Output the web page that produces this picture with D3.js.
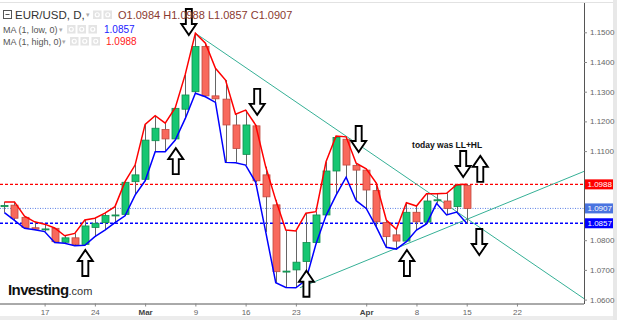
<!DOCTYPE html>
<html>
<head>
<meta charset="utf-8">
<script src="https://cdn.jsdelivr.net/npm/d3@7"></script>
<style>
  html, body { margin: 0; padding: 0; background: #fff; overflow: hidden; }
  svg { display: block; font-family: Arial, "Liberation Sans", sans-serif; }
</style>
</head>
<body>
<div id="chart"></div>
<script>
// daily EUR/USD candles
const dates = [
  '2020-02-11','2020-02-12','2020-02-13','2020-02-14','2020-02-17','2020-02-18','2020-02-19','2020-02-20','2020-02-21',
  '2020-02-24','2020-02-25','2020-02-26','2020-02-27','2020-02-28','2020-03-02','2020-03-03','2020-03-04','2020-03-05',
  '2020-03-06','2020-03-09','2020-03-10','2020-03-11','2020-03-12','2020-03-13','2020-03-16','2020-03-17','2020-03-18',
  '2020-03-19','2020-03-20','2020-03-23','2020-03-24','2020-03-25','2020-03-26','2020-03-27','2020-03-30','2020-03-31',
  '2020-04-01','2020-04-02','2020-04-03','2020-04-06','2020-04-07','2020-04-08','2020-04-09','2020-04-10','2020-04-13',
  '2020-04-14','2020-04-15'
];
const open = [
  1.0913,1.0918,1.0877,1.0842,1.0837,1.0840,1.0793,1.0808,1.0786,
  1.0843,1.0859,1.0884,1.0887,1.0997,1.1005,1.1135,1.1173,1.1141,
  1.1241,1.1300,1.1452,1.1286,1.1275,1.1188,1.1089,1.1185,1.1020,
  1.0919,1.0694,1.0700,1.0728,1.0792,1.0885,1.1033,1.1140,1.1052,
  1.1036,1.0967,1.0860,1.0818,1.0797,1.0894,1.0861,1.0934,1.0932,
  1.0913,1.0984
];
const high = [
  1.0929,1.0929,1.0881,1.0862,1.0854,1.0841,1.0815,1.0823,1.0868,
  1.0874,1.0891,1.0913,1.0997,1.1053,1.1190,1.1219,1.1194,1.1246,
  1.1359,1.1497,1.1463,1.1379,1.1339,1.1224,1.1238,1.1188,1.1047,
  1.0935,1.0834,1.0831,1.0891,1.0896,1.1064,1.1151,1.1148,1.1059,
  1.1040,1.0992,1.0868,1.0837,1.0926,1.0915,1.0956,1.0956,1.0958,
  1.0987,1.0988
];
const low = [
  1.0893,1.0867,1.0840,1.0835,1.0829,1.0792,1.0790,1.0781,1.0783,
  1.0812,1.0834,1.0859,1.0882,1.0952,1.1000,1.1098,1.1098,1.1137,
  1.1210,1.1295,1.1283,1.1264,1.1062,1.1061,1.1053,1.0995,1.0828,
  1.0657,1.0641,1.0640,1.0666,1.0787,1.0883,1.0952,1.1012,1.0933,
  1.0907,1.0845,1.0776,1.0770,1.0795,1.0834,1.0855,1.0924,1.0885,
  1.0895,1.0857
];
const close = [
  1.0917,1.0874,1.0843,1.0837,1.0838,1.0795,1.0808,1.0786,1.0848,
  1.0857,1.0883,1.0885,1.0995,1.1020,1.1137,1.1177,1.1141,1.1244,
  1.1289,1.1452,1.1286,1.1276,1.1188,1.1109,1.1188,1.1000,1.0946,
  1.0694,1.0696,1.0726,1.0792,1.0885,1.1033,1.1146,1.1053,1.1036,
  1.0969,1.0862,1.0812,1.0797,1.0894,1.0862,1.0932,1.0936,1.0907,
  1.0985,1.0907
];

// 1.1000 and 1.0900 sit under the price tags, so they are not labelled
const yTicks = [1.06, 1.07, 1.08, 1.11, 1.12, 1.13, 1.14, 1.15];
const tickDates = ['2020-02-17','2020-02-24','2020-03-02','2020-03-09','2020-03-16','2020-03-23','2020-04-01','2020-04-08','2020-04-15','2020-04-22'];
const tickLabels = ['17','24','Mar','9','16','23','Apr','8','15','22'];
const levels = [1.0988, 1.0907, 1.0857];       // high MA, last close, low MA

// trend lines: two anchors each [bar index, price], extended to the right edge
const trendDown = [[19, 1.1497], [46, 1.0873]];
const trendUp = [[29.4, 1.0640], [46, 1.0870]];

// hand-drawn arrows: [bar index, tip price, direction]
const arrowMarks = [
  [18.35, 1.1491, 'down'],
  [8.05, 1.0767, 'up'],
  [17.05, 1.1110, 'up'],
  [25.15, 1.1222, 'down'],
  [30.05, 1.0697, 'up'],
  [35.25, 1.1097, 'down'],
  [40.05, 1.0767, 'up'],
  [45.65, 1.1013, 'down'],
  [47.35, 1.1084, 'up'],
  [47.25, 1.0750, 'down']
];
const note = [44.05, 1.1110, 'today was LL+HL'];

const W = 625, H = 320;
const plotRight = 584, plotTop = 3, plotBottom = 303.5;

// weekday count from the first bar
function tradingIndex(s) {
  const d0 = new Date(dates[0] + 'T00:00:00Z');
  const d1 = new Date(s + 'T00:00:00Z');
  let n = 0;
  for (let d = new Date(d0); d < d1; d.setUTCDate(d.getUTCDate() + 1)) {
    const wd = d.getUTCDay();
    if (wd !== 0 && wd !== 6) n++;
  }
  return n;
}

const bars = dates.map((d, i) => ({
  i: tradingIndex(d), o: open[i], h: high[i], l: low[i], c: close[i]
}));

const svg = d3.select('#chart').append('svg').attr('width', W).attr('height', H);

const x = d3.scaleLinear().domain([-0.44, 57.67]).range([0, plotRight]);
const y = d3.scaleLinear().domain([1.06, 1.15]).range([299.6, 32.3]);

// frame bits
svg.append('rect').attr('x', 613).attr('y', 0).attr('width', 4).attr('height', H).attr('fill', '#e8e8e8');
svg.append('rect').attr('x', 0).attr('y', 316).attr('width', 613).attr('height', 4).attr('fill', '#ececec');
svg.append('line').attr('x1', 0).attr('x2', 613).attr('y1', 2.5).attr('y2', 2.5).attr('stroke', '#e2e2e2');

svg.append('clipPath').attr('id', 'plot').append('rect')
  .attr('x', 0).attr('y', plotTop).attr('width', plotRight).attr('height', plotBottom - plotTop);
const g = svg.append('g').attr('clip-path', 'url(#plot)');

// level lines
g.append('line').attr('x1', 0).attr('x2', plotRight).attr('y1', y(levels[0])).attr('y2', y(levels[0]))
  .attr('stroke', '#ff0000').attr('stroke-width', 1.3).attr('stroke-dasharray', '3,2');
g.append('line').attr('x1', 0).attr('x2', plotRight).attr('y1', y(levels[1])).attr('y2', y(levels[1]))
  .attr('stroke', '#5b7fe6').attr('stroke-width', 1).attr('stroke-dasharray', '1,1.5');
g.append('line').attr('x1', 0).attr('x2', plotRight).attr('y1', y(levels[2])).attr('y2', y(levels[2]))
  .attr('stroke', '#0000ff').attr('stroke-width', 1.5).attr('stroke-dasharray', '3,2');

// trend lines
function extend(t) {
  const slope = (t[1][1] - t[0][1]) / (t[1][0] - t[0][0]);
  const xe = x.domain()[1];
  return [t[0], [xe, t[0][1] + slope * (xe - t[0][0])]];
}
[trendDown, trendUp].forEach(t => {
  g.append('path').datum(extend(t))
    .attr('fill', 'none').attr('stroke', '#36b096').attr('stroke-width', 1)
    .attr('d', d3.line().x(d => x(d[0])).y(d => y(d[1])));
});

// candles
const bw = 7;
const candle = g.selectAll('.candle').data(bars).join('g').attr('class', 'candle');
candle.append('line')
  .attr('x1', d => Math.round(x(d.i)) + 0.5).attr('x2', d => Math.round(x(d.i)) + 0.5)
  .attr('y1', d => y(d.h)).attr('y2', d => y(d.l))
  .attr('stroke', '#666').attr('stroke-width', 1);
candle.append('rect')
  .attr('x', d => Math.round(x(d.i)) + 0.5 - bw / 2)
  .attr('y', d => y(Math.max(d.o, d.c)))
  .attr('width', bw)
  .attr('height', d => Math.max(1, Math.abs(y(d.o) - y(d.c))))
  .attr('fill', d => d.c >= d.o ? '#16c672' : '#f8695c')
  .attr('stroke', d => d.c >= d.o ? '#0f8c4c' : '#c1483d')
  .attr('stroke-width', 0.8);

// MA(1, high) and MA(1, low)
g.append('path').datum(bars).attr('fill', 'none').attr('stroke', '#ff0000').attr('stroke-width', 1.5)
  .attr('d', d3.line().x(d => x(d.i)).y(d => y(d.h)));
g.append('path').datum(bars).attr('fill', 'none').attr('stroke', '#0000ff').attr('stroke-width', 1.5)
  .attr('d', d3.line().x(d => x(d.i)).y(d => y(d.l)));

// arrows
function arrowPath(dir) {
  const s = dir === 'up' ? 1 : -1;
  const pts = [[0, 0], [7.5, 11], [3, 11], [3, 26], [-3, 26], [-3, 11], [-7.5, 11]];
  return 'M' + pts.map(p => p[0] + ',' + (p[1] * s)).join('L') + 'Z';
}
g.selectAll('.arrow').data(arrowMarks).join('path').attr('class', 'arrow')
  .attr('transform', d => `translate(${x(d[0])},${y(d[1])})`)
  .attr('d', d => arrowPath(d[2]))
  .attr('fill', '#fff').attr('stroke', '#000').attr('stroke-width', 1.9).attr('stroke-linejoin', 'miter');

g.append('text').attr('x', x(note[0])).attr('y', y(note[1]))
  .attr('text-anchor', 'middle').attr('font-size', 8.5).attr('font-weight', 'bold').attr('fill', '#111')
  .text(note[2]);

// axes
const xAxis = svg.append('g').attr('transform', `translate(0,${plotBottom})`)
  .call(d3.axisBottom(x).tickValues(tickDates.map(tradingIndex))
    .tickFormat((d, k) => tickLabels[k]).tickSize(3).tickPadding(3));
xAxis.select('.domain').attr('d', `M0,0.5H${plotRight}`).attr('stroke', '#555');
xAxis.selectAll('.tick line').attr('stroke', '#888');
xAxis.selectAll('.tick text').attr('font-size', 8)
  .attr('font-weight', (d, k) => isNaN(+tickLabels[k]) ? 'bold' : 'normal')
  .attr('fill', (d, k) => isNaN(+tickLabels[k]) ? '#444' : '#666');

const yAxis = svg.append('g').attr('transform', `translate(${plotRight},0)`)
  .call(d3.axisRight(y).tickValues(yTicks).tickFormat(d3.format('.4f')).tickSize(3).tickPadding(3));
yAxis.select('.domain').attr('d', `M0.5,${plotTop}V${plotBottom + 0.5}`).attr('stroke', '#555');
yAxis.selectAll('.tick line').attr('stroke', '#888');
yAxis.selectAll('.tick text').attr('font-size', 8).attr('fill', '#666');

// price tags
const tagColors = ['#ff0000', '#4a74e0', '#0000ff'];
levels.forEach((v, k) => {
  svg.append('rect').attr('x', plotRight + 1).attr('y', y(v) - 5).attr('width', 28).attr('height', 10)
    .attr('fill', tagColors[k]);
  svg.append('text').attr('x', plotRight + 3.5).attr('y', y(v) + 3).attr('font-size', 8).attr('fill', '#fff')
    .text(d3.format('.4f')(v));
});

// legend header
const head = svg.append('g');
head.append('rect').attr('x', 3.5).attr('y', 10.5).attr('width', 8).attr('height', 8).attr('fill', 'none').attr('stroke', '#555');
head.append('line').attr('x1', 5.5).attr('x2', 9.5).attr('y1', 14.5).attr('y2', 14.5).attr('stroke', '#555');
head.append('text').attr('x', 15).attr('y', 19).attr('font-size', 11.5).attr('fill', '#333').text('EUR/USD, D,');
head.append('text').attr('x', 86).attr('y', 17).attr('font-size', 7).attr('fill', '#aaa').text('▾');

function icons(xs, yTop) {
  xs.forEach(px => head.append('rect').attr('x', px).attr('y', yTop).attr('width', 8.5).attr('height', 8.5).attr('fill', '#e4e4e4'));
  xs.forEach(px => head.append('circle').attr('cx', px + 4.25).attr('cy', yTop + 4.25).attr('r', 2).attr('fill', 'none').attr('stroke', '#fff').attr('stroke-width', 1.2));
}
icons([93, 103.5], 10.5);

const ohlc = head.append('text').attr('x', 118).attr('y', 19).attr('font-size', 11);
[['O', open], ['H', high], ['L', low], ['C', close]].forEach(([k, arr], j) => {
  ohlc.append('tspan').attr('fill', '#8a3a30').text((j ? ' ' : '') + k + d3.format('.4f')(arr[arr.length - 1]));
});

head.append('text').attr('x', 3).attr('y', 33).attr('font-size', 9).attr('fill', '#555').text('MA (1, low, 0)');
head.append('text').attr('x', 59).attr('y', 32).attr('font-size', 7).attr('fill', '#aaa').text('▾');
icons([67, 77.5, 88.5], 25);
head.append('text').attr('x', 104).attr('y', 33).attr('font-size', 10).attr('fill', '#2222ff').text(d3.format('.4f')(low[low.length - 1]));

head.append('text').attr('x', 3).attr('y', 45).attr('font-size', 9).attr('fill', '#555').text('MA (1, high, 0)');
head.append('text').attr('x', 62).attr('y', 44).attr('font-size', 7).attr('fill', '#aaa').text('▾');
icons([70, 80.5, 91.5], 37);
head.append('text').attr('x', 106).attr('y', 45).attr('font-size', 10).attr('fill', '#ff2020').text(d3.format('.4f')(high[high.length - 1]));

// logo
const logo = svg.append('text').attr('x', 8).attr('y', 295);
logo.append('tspan').attr('font-size', 15).attr('font-weight', 'bold').attr('fill', '#111').attr('letter-spacing', -0.6).text('Investing');
logo.append('tspan').attr('font-size', 11).attr('fill', '#333').text('.com');
</script>
</body>
</html>
